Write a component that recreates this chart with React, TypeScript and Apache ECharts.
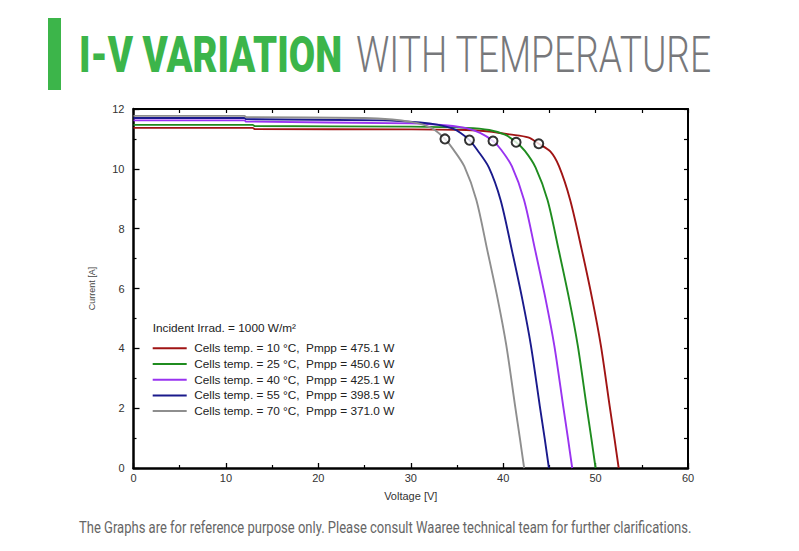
import React, { useEffect, useRef } from "react";
import * as echarts from "echarts";

// ---- data ----
const temps = [10, 25, 40, 55, 70];
const pmppValues = ["475.1", "450.6", "425.1", "398.5", "371.0"];

const curve10: [number, number][] = [
  [0, 11.37], [12.9, 11.37], [13.1, 11.33], [30, 11.32], [36, 11.3], [38.5, 11.25],
  [40.7, 11.15], [42.7, 11.05], [43.85, 10.84], [45.1, 10.58], [46.05, 10.08],
  [47.25, 8.96], [48.5, 7.3], [49.65, 5.63], [50.57, 4.1], [51.52, 2.08], [52.05, 0.97], [52.5, 0],
];
const curve25: [number, number][] = [
  [0, 11.47], [12.9, 11.47], [13.1, 11.43], [30, 11.41], [36, 11.37], [38.5, 11.3],
  [40.2, 11.14], [41.4, 10.89], [42.35, 10.6], [43.5, 10.05], [44.8, 8.96],
  [46.0, 7.3], [47.15, 5.63], [48.07, 4.1], [49.02, 2.08], [49.55, 0.97], [50.0, 0],
];
const curve40: [number, number][] = [
  [0, 11.62], [12.0, 11.62], [12.2, 11.58], [30, 11.52], [34, 11.45], [36, 11.36],
  [37.5, 11.2], [38.9, 10.93], [39.8, 10.63], [40.95, 10.08], [42.26, 8.96],
  [43.45, 7.3], [44.6, 5.63], [45.53, 4.1], [46.49, 2.08], [47.02, 0.97], [47.47, 0],
];
const curve55: [number, number][] = [
  [0, 11.7], [12.0, 11.7], [12.2, 11.66], [27, 11.62], [31, 11.55], [33, 11.47],
  [34.5, 11.35], [35.4, 11.2], [36.35, 10.96], [37.2, 10.63], [38.45, 10.05],
  [39.72, 8.96], [40.93, 7.3], [42.08, 5.63], [43.0, 4.1], [43.96, 2.08], [44.5, 0.97], [44.95, 0],
];
const curve70: [number, number][] = [
  [0, 11.77], [12.0, 11.77], [12.2, 11.73], [25, 11.7], [28, 11.65], [30, 11.57],
  [31.5, 11.46], [32.6, 11.3], [33.7, 11.0], [34.6, 10.65], [35.8, 10.08],
  [37.1, 8.96], [38.27, 7.3], [39.42, 5.63], [40.34, 4.1], [41.29, 2.08], [41.82, 0.97], [42.27, 0],
];
const mppPoints: [number, number][] = [
  [43.85, 10.84], [41.4, 10.89], [38.9, 10.93], [36.35, 10.96], [33.7, 11.0],
];

const curves = [curve10, curve25, curve40, curve55, curve70];
const colors = ["#a01414", "#1f8c1f", "#9933f0", "#1a1a8c", "#8e8e8e"];

const titleGreen = "I-V VARIATION";
const titleGray = "WITH TEMPERATURE";
const irradText = "Incident Irrad. = 1000 W/m²";
const footnote =
  "The Graphs are for reference purpose only. Please consult Waaree technical team for further clarifications.";

function measure(text: string, font: string): number {
  const c = document.createElement("canvas");
  const ctx = c.getContext("2d");
  if (!ctx) return text.length * 10;
  ctx.font = font;
  return ctx.measureText(text).width;
}

export default function App() {
  const ref = useRef<HTMLDivElement>(null);

  useEffect(() => {
    if (!ref.current) return;
    const chart = echarts.init(ref.current, undefined, { renderer: "svg" });

    const greenFont = "900 50px Roboto";
    const grayFont = "300 50px Roboto";
    const footFont = "400 16px Roboto";
    const sGreen = 263 / measure(titleGreen, greenFont);
    const sGray = 356 / measure(titleGray, grayFont);
    const sFoot = 613 / measure(footnote, footFont);

    const names = temps.map(
      (t, i) => `Cells temp. = ${t} °C,  Pmpp = ${pmppValues[i]} W`
    );

    const axisFont = { fontFamily: "Liberation Sans, Arial, sans-serif", fontSize: 11, color: "#333" };

    chart.setOption({
      animation: false,
      backgroundColor: "#fff",
      grid: { left: 133.5, right: 111, top: 109, bottom: 83 },
      legend: {
        data: names,
        orient: "vertical",
        left: 152.7,
        top: 342.3,
        padding: 0,
        icon: "rect",
        itemWidth: 34,
        itemHeight: 2,
        itemGap: 3.7,
        selectedMode: false,
        textStyle: {
          fontFamily: "Liberation Sans, Arial, sans-serif",
          fontSize: 11.8,
          color: "#222",
          lineHeight: 12,
          padding: [0, 0, 0, 2.5],
        },
      },
      xAxis: [
        {
          type: "value",
          position: "bottom",
          min: 0,
          max: 60,
          interval: 10,
          name: "Voltage [V]",
          nameLocation: "middle",
          nameGap: 22,
          nameTextStyle: { ...axisFont, color: "#333" },
          axisLine: { onZero: false, lineStyle: { color: "#000", width: 2.5 } },
          axisTick: { inside: true, length: 5, lineStyle: { color: "#000", width: 1.3 } },
          minorTick: { show: true, splitNumber: 2, length: 3, lineStyle: { color: "#000", width: 1.2 } },
          axisLabel: { ...axisFont, margin: 4 },
          splitLine: { show: false },
        },
        {
          type: "value",
          position: "top",
          min: 0,
          max: 60,
          interval: 5,
          axisLine: { onZero: false, lineStyle: { color: "#000", width: 2 } },
          axisTick: { inside: true, length: 4, lineStyle: { color: "#000", width: 1.2 } },
          axisLabel: { show: false },
          splitLine: { show: false },
        },
      ],
      yAxis: [
        {
          type: "value",
          position: "left",
          min: 0,
          max: 12,
          interval: 2,
          name: "Current [A]",
          nameLocation: "middle",
          nameGap: 37,
          nameTextStyle: { fontFamily: "Liberation Sans Narrow, Liberation Sans, Arial, sans-serif", fontSize: 9, color: "#444" },
          axisLine: { onZero: false, lineStyle: { color: "#000", width: 2.5 } },
          axisTick: { inside: true, length: 6, lineStyle: { color: "#000", width: 1.3 } },
          minorTick: { show: true, splitNumber: 2, length: 3, lineStyle: { color: "#000", width: 1.2 } },
          axisLabel: { ...axisFont, margin: 9 },
          splitLine: { show: false },
        },
        {
          type: "value",
          position: "right",
          min: 0,
          max: 12,
          interval: 1,
          axisLine: { onZero: false, lineStyle: { color: "#000", width: 2 } },
          axisTick: { inside: true, length: 4, lineStyle: { color: "#000", width: 1.2 } },
          axisLabel: { show: false },
          splitLine: { show: false },
        },
      ],
      series: [
        ...curves.map((c, i) => ({
          type: "line",
          name: names[i],
          data: c,
          xAxisIndex: 0,
          yAxisIndex: 0,
          showSymbol: false,
          symbol: "none",
          smooth: 0.3,
          lineStyle: { color: colors[i], width: 1.9 },
          itemStyle: { color: colors[i] },
          z: 2 + i,
        })),
        {
          type: "scatter",
          name: "MPP",
          data: mppPoints,
          symbol: "circle",
          symbolSize: 9,
          itemStyle: { color: "#fff", borderColor: "#000", borderWidth: 2 },
          z: 10,
        },
      ],
      graphic: [
        { type: "rect", shape: { x: 48, y: 18, width: 13, height: 72 }, style: { fill: "#3cb54a" } },
        {
          type: "text",
          x: 79,
          y: 55,
          scaleX: sGreen,
          style: { text: titleGreen, font: greenFont, fill: "#3cb54a", textAlign: "left", textVerticalAlign: "middle" },
        },
        {
          type: "text",
          x: 356,
          y: 55,
          scaleX: sGray,
          style: { text: titleGray, font: grayFont, fill: "#77787b", textAlign: "left", textVerticalAlign: "middle" },
        },
        {
          type: "text",
          x: 152.7,
          y: 327.5,
          style: {
            text: irradText,
            font: "11.8px 'Liberation Sans', Arial, sans-serif",
            fill: "#222",
            textAlign: "left",
            textVerticalAlign: "middle",
          },
        },
        {
          type: "text",
          x: 79,
          y: 528,
          scaleX: sFoot,
          style: { text: footnote, font: footFont, fill: "#666", textAlign: "left", textVerticalAlign: "middle" },
        },
      ],
    });

    return () => chart.dispose();
  }, []);

  return (
    <div
      ref={ref}
      style={{ position: "fixed", left: 0, top: 0, width: 799, height: 551, background: "#fff" }}
    />
  );
}
